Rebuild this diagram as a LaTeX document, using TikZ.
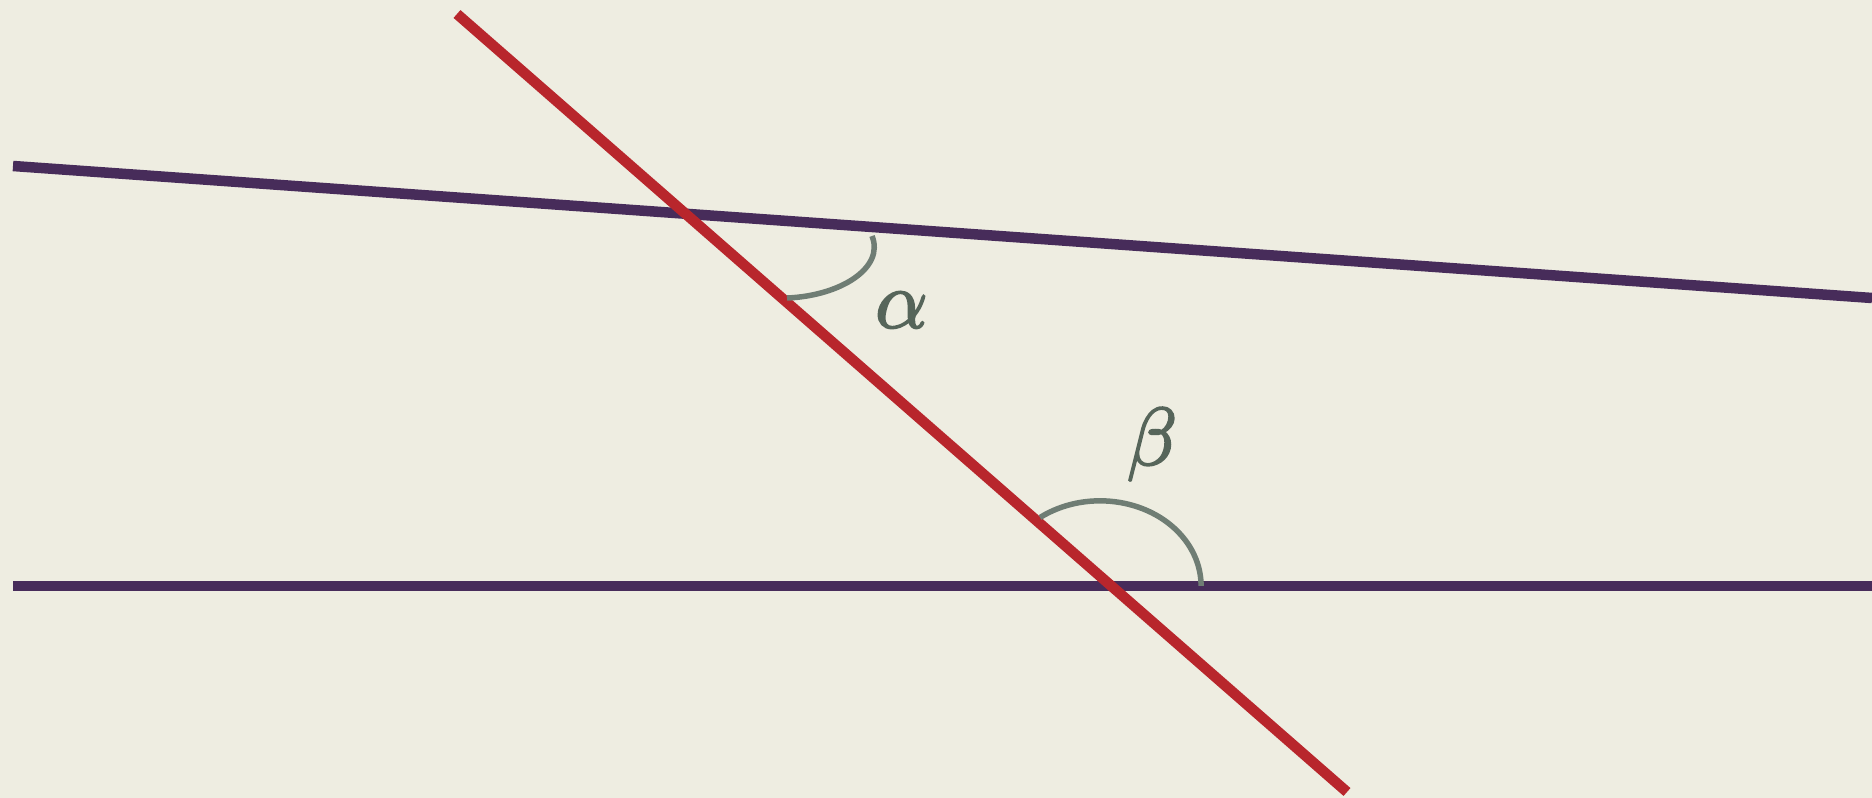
\documentclass[tikz,border=0pt]{standalone}
\usepackage{graphicx}
\definecolor{bgc}{HTML}{EEEDE1}
\definecolor{purp}{HTML}{472C5A}
\definecolor{redl}{HTML}{B8262C}
\definecolor{arcc}{HTML}{6F7D74}
\definecolor{labc}{HTML}{56655A}
\newcommand{\heavyglyph}[1]{\special{pdf:literal 2 Tr 0.22 w}#1\special{pdf:literal 0 Tr}}
\tikzset{
  purpline/.style={draw=purp, line width=10.5pt, line cap=butt},
  redline/.style={draw=redl, line width=10.5pt, line cap=butt},
  anglearc/.style={draw=arcc, line width=5.5pt, line cap=butt},
  anglelab/.style={text=labc, inner sep=0pt}
}
\begin{document}
\begin{tikzpicture}[x=1pt,y=1pt]
\fill[bgc] (0,0) rectangle (1872,798);
\useasboundingbox (0,0) rectangle (1872,798);
\coordinate (u1) at (13,632);
\coordinate (u2) at (1872,500);
\coordinate (l1) at (13,212);
\coordinate (l2) at (1872,212);
\coordinate (r1) at (457,784);
\coordinate (r2) at (1347,6);
\draw[purpline] (u1) -- (u2);
\draw[purpline] (l1) -- (l2);
\draw[redline] (r1) -- (r2);
\coordinate (a1) at (872,562);
\coordinate (a2) at (787,500);
\draw[anglearc] (a1) .. controls (885,530) and (840,502) .. (a2);
\coordinate (b1) at (1040,280.5);
\draw[anglearc] (b1) arc[start angle=126.5, end angle=0, x radius=101, y radius=85];
\node[anglelab] (alpha) at (901.5,488) {\scalebox{8.2}{\color{labc}\heavyglyph{$\alpha$}}};
\node[anglelab] (beta) at (1152,353.5) {\scalebox{8.2}{\color{labc}\heavyglyph{$\beta$}}};
\end{tikzpicture}
\end{document}
